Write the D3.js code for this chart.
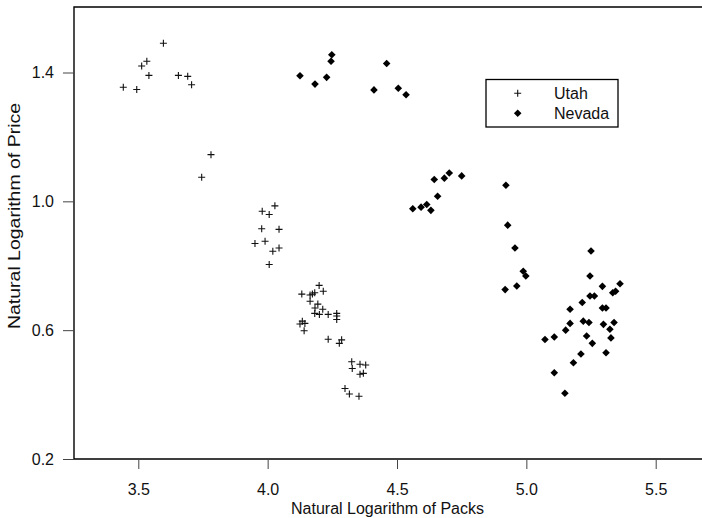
<!DOCTYPE html>
<html>
<head>
<meta charset="utf-8">
<script src="https://cdn.jsdelivr.net/npm/d3@7"></script>
<style>
body { margin: 0; background: #fff; }
svg { display: block; font-family: "Liberation Sans", Arial, Helvetica, sans-serif; }
</style>
</head>
<body>
<svg width="702" height="518"></svg>
<script>
'use strict';

var utahPacks = [3.597,3.533,3.513,3.541,3.442,3.494,3.655,3.691,3.706,3.781,3.745,
	4.028,3.979,4.006,3.977,4.044,3.951,3.990,4.020,4.044,4.006,
	4.199,4.132,4.164,4.173,4.182,4.215,4.164,4.194,4.213,4.183,4.182,4.200,4.234,4.267,4.267,4.267,
	4.134,4.125,4.144,4.141,4.234,4.286,4.277,4.325,4.357,4.379,4.327,4.357,4.370,4.299,4.316,4.353];
var utahPrice = [1.491,1.435,1.420,1.391,1.354,1.347,1.391,1.388,1.362,1.145,1.075,
	0.986,0.969,0.959,0.915,0.913,0.869,0.876,0.845,0.855,0.804,
	0.739,0.712,0.709,0.712,0.716,0.721,0.690,0.681,0.665,0.669,0.652,0.649,0.649,0.652,0.644,0.633,
	0.628,0.619,0.621,0.598,0.572,0.570,0.559,0.502,0.494,0.492,0.481,0.463,0.466,0.419,0.402,0.395];

var nevadaPacks = [4.248,4.245,4.125,4.183,4.228,4.460,4.411,4.505,4.535,
	4.561,4.593,4.615,4.631,4.657,4.644,4.683,4.702,4.750,4.921,4.928,
	4.956,4.988,4.998,4.918,4.963,
	5.250,5.246,5.294,5.362,5.345,5.334,5.246,5.263,5.216,5.169,5.294,5.308,5.220,5.242,5.169,
	5.298,5.339,5.323,5.152,5.233,5.327,5.108,5.072,5.255,5.211,5.308,5.182,5.108,5.149];
var nevadaPrice = [1.455,1.435,1.390,1.364,1.385,1.428,1.346,1.351,1.331,
	0.977,0.982,0.990,0.972,1.016,1.068,1.072,1.088,1.079,1.050,0.926,
	0.855,0.783,0.768,0.726,0.737,
	0.846,0.768,0.736,0.744,0.721,0.716,0.706,0.706,0.686,0.665,0.669,0.669,0.628,0.624,0.621,
	0.618,0.624,0.603,0.600,0.582,0.576,0.579,0.571,0.559,0.526,0.530,0.499,0.468,0.404];

var xTicks = [3.5, 4.0, 4.5, 5.0, 5.5];
var yTicks = [0.2, 0.6, 1.0, 1.4];
var seriesNames = ['Utah', 'Nevada'];

var svg = d3.select('svg');
var scaleX = d3.scaleLinear().domain([3.5, 5.5]).range([138.3, 655.7]);
var scaleY = d3.scaleLinear().domain([0.2, 1.4]).range([459, 72.5]);

var plotLeft = 74, plotTop = 7, plotBottom = 459;

var plusPath = 'M-3.5,0H3.5M0,-3.5V3.5';
var diamondPath = 'M0,-3.8L3.8,0L0,3.8L-3.8,0Z';

// frame (right side runs off the picture)
svg.append('path')
	.attr('d', 'M705,' + plotTop + 'H' + plotLeft + 'V' + plotBottom + 'H705')
	.attr('fill', 'none')
	.attr('stroke', '#000')
	.attr('stroke-width', 1.4);

// x axis
var xAxis = svg.append('g')
	.attr('transform', 'translate(0,460)')
	.call(d3.axisBottom(scaleX).tickValues(xTicks).tickFormat(d3.format('.1f')).tickSizeOuter(0).tickSize(9).tickPadding(15));
xAxis.select('.domain').remove();
xAxis.selectAll('line').attr('stroke', '#444');
xAxis.selectAll('text').attr('font-size', 16).attr('fill', '#111');
xAxis.attr('font-family', null);

// y axis
var yAxis = svg.append('g')
	.attr('transform', 'translate(' + plotLeft + ',0)')
	.call(d3.axisLeft(scaleY).tickValues(yTicks).tickFormat(d3.format('.1f')).tickSizeOuter(0).tickSize(11).tickPadding(9));
yAxis.select('.domain').remove();
yAxis.selectAll('line').attr('stroke', '#444');
yAxis.selectAll('text').attr('font-size', 16).attr('fill', '#111');
yAxis.attr('font-family', null);

// labels
svg.append('text')
	.attr('x', 387.5)
	.attr('y', 514)
	.attr('text-anchor', 'middle')
	.attr('font-size', 16)
	.attr('fill', '#111')
	.text('Natural Logarithm of Packs');

svg.append('text')
	.attr('transform', 'translate(20,216) rotate(-90)')
	.attr('text-anchor', 'middle')
	.attr('font-size', 16)
	.attr('fill', '#111')
	.attr('textLength', 226)
	.attr('lengthAdjust', 'spacingAndGlyphs')
	.text('Natural Logarithm of Price');

// points
var utah = d3.zip(utahPacks, utahPrice);
var nevada = d3.zip(nevadaPacks, nevadaPrice);

svg.append('g').selectAll('path')
	.data(utah).enter()
	.append('path')
	.attr('d', plusPath)
	.attr('transform', function(d){ return 'translate(' + scaleX(d[0]) + ',' + scaleY(d[1]) + ')'; })
	.attr('fill', 'none')
	.attr('stroke', '#111')
	.attr('stroke-width', 1.1);

svg.append('g').selectAll('path')
	.data(nevada).enter()
	.append('path')
	.attr('d', diamondPath)
	.attr('transform', function(d){ return 'translate(' + scaleX(d[0]) + ',' + scaleY(d[1]) + ')'; })
	.attr('fill', '#000');

// legend
var legend = svg.append('g');
legend.append('rect')
	.attr('x', 486).attr('y', 79.5)
	.attr('width', 132).attr('height', 47.5)
	.attr('fill', '#fff')
	.attr('stroke', '#000')
	.attr('stroke-width', 1.3);

legend.selectAll('path')
	.data(seriesNames).enter()
	.append('path')
	.attr('d', function(d, i){ return i == 0 ? plusPath : diamondPath; })
	.attr('transform', function(d, i){ return 'translate(517.7,' + (93.3 + i*20) + ')'; })
	.attr('fill', function(d, i){ return i == 0 ? 'none' : '#000'; })
	.attr('stroke', function(d, i){ return i == 0 ? '#111' : 'none'; })
	.attr('stroke-width', 1.1);

legend.selectAll('text')
	.data(seriesNames).enter()
	.append('text')
	.attr('x', 554)
	.attr('y', function(d, i){ return 99 + i*20; })
	.attr('font-size', 16)
	.attr('fill', '#111')
	.text(function(d){ return d; });
</script>
</body>
</html>
